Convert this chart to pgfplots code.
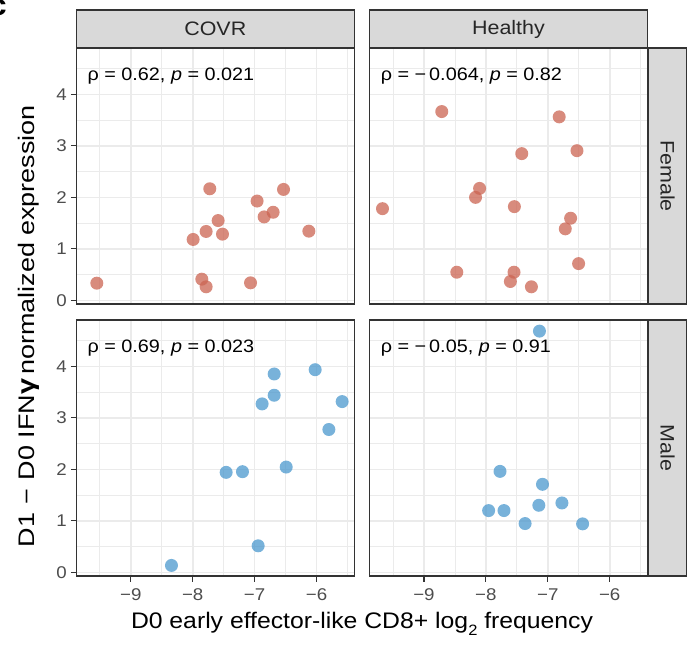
\documentclass[border=0pt]{standalone}
\usepackage{pgfplots}
\pgfplotsset{compat=1.18}
\usepackage{graphicx}
\usepackage{fontspec}
\setmainfont{Liberation Sans}[FakeStretch=1.1]
\definecolor{ptred}{RGB}{203,100,82}
\definecolor{ptblue}{RGB}{75,152,205}
\definecolor{gridc}{RGB}{235,235,235}
\definecolor{bordc}{RGB}{51,51,51}
\definecolor{stripc}{RGB}{217,217,217}
\definecolor{tickc}{RGB}{77,77,77}
\pgfplotsset{
  panel/.style={
    scale only axis, width=278pt, height=256pt,
    xmin=-9.88, xmax=-5.39, ymin=-0.07, ymax=4.9,
    xtick={-9,-8,-7,-6}, ytick={0,1,2,3,4},
    minor xtick={-9.5,-8.5,-7.5,-6.5,-5.5}, minor ytick={0.5,1.5,2.5,3.5,4.5},
    grid=both,
    major grid style={gridc, line width=1.6pt},
    minor grid style={gridc, line width=0.8pt},
    axis line style={bordc, line width=1.2pt},
    tick style={bordc, line width=1.1pt},
    tick align=outside, major tick length=5.5pt, minor tick length=0pt,
    tick pos=left,
    xticklabels={−9,−8,−7,−6}, yticklabels={0,1,2,3,4},
    ticklabel style={font=\fontsize{17}{17}\selectfont, text=tickc},
    xticklabel style={yshift=-3.5pt},
    yticklabel style={xshift=-0.5pt},
  },
  inx/.style={xticklabels={}, x tick style={draw=none}},
  iny/.style={yticklabels={}, y tick style={draw=none}},
  redpts/.style={only marks, mark=*, mark size=6.5pt, mark options={fill=ptred, draw=ptred, fill opacity=0.75, draw opacity=0}},
  bluepts/.style={only marks, mark=*, mark size=6.5pt, mark options={fill=ptblue, draw=ptblue, fill opacity=0.75, draw opacity=0}},
}
\newcommand{\ptxt}[1]{\node[anchor=west, inner sep=0pt, font=\fontsize{18}{18}\selectfont] at (axis cs:-9.70,4.35) {#1};}
\begin{document}
\begin{tikzpicture}[x=1pt,y=1pt]
\useasboundingbox (0,0) rectangle (689,649);
% top-left: COVR Female
\begin{axis}[panel, inx, at={(76.3pt,345pt)}, anchor=south west]
\addplot[redpts] coordinates {(-9.549,0.334) (-7.724,2.167) (-7.993,1.183) (-7.783,1.338) (-7.589,1.550) (-7.519,1.286) (-7.853,0.412) (-7.783,0.264) (-7.066,0.341) (-6.960,1.929) (-6.846,1.621) (-6.701,1.711) (-6.533,2.154) (-6.124,1.344)};
\ptxt{ρ = 0.62, \textit{p} = 0.021}
\end{axis}
% top-right: Healthy Female
\begin{axis}[panel, inx, iny, at={(369.5pt,345pt)}, anchor=south west]
\addplot[redpts] coordinates {(-9.670,1.781) (-8.713,3.666) (-8.470,0.547) (-8.102,2.174) (-8.167,2.000) (-7.540,1.820) (-7.421,2.849) (-7.546,0.547) (-7.605,0.367) (-7.265,0.264) (-6.816,3.563) (-6.529,2.907) (-6.632,1.595) (-6.718,1.389) (-6.503,0.714)};
\ptxt{ρ = −\,0.064, \textit{p} = 0.82}
\end{axis}
% bottom-left: COVR Male
\begin{axis}[panel, at={(76.3pt,73pt)}, anchor=south west]
\addplot[bluepts] coordinates {(-8.343,0.135) (-7.460,1.942) (-7.196,1.955) (-6.943,0.516) (-6.879,3.271) (-6.684,3.852) (-6.684,3.439) (-6.490,2.045) (-6.022,3.935) (-5.801,2.774) (-5.586,3.316)};
\ptxt{ρ = 0.69, \textit{p} = 0.023}
\end{axis}
% bottom-right: Healthy Male
\begin{axis}[panel, iny, at={(369.5pt,73pt)}, anchor=south west]
\addplot[bluepts] coordinates {(-7.135,4.684) (-7.772,1.961) (-7.086,1.710) (-7.956,1.200) (-7.708,1.200) (-7.145,1.303) (-6.772,1.348) (-7.367,0.948) (-6.438,0.942)};
\ptxt{ρ = −\,0.05, \textit{p} = 0.91}
\end{axis}
% strips
\draw[bordc, line width=1.2pt, fill=stripc] (76.3,601) rectangle (354.3,639);
\draw[bordc, line width=1.2pt, fill=stripc] (369.5,601) rectangle (647.5,639);
\draw[bordc, line width=1.2pt, fill=stripc] (648.5,345) rectangle (686.5,601);
\draw[bordc, line width=1.2pt, fill=stripc] (648.5,73) rectangle (686.5,329);
\node[font=\fontsize{19.5}{19.5}\selectfont, text=black!85] at (215.3,620) {COVR};
\node[font=\fontsize{19.5}{19.5}\selectfont, text=black!85] at (508.5,620) {Healthy};
\node[font=\fontsize{19.5}{19.5}\selectfont, text=black!85, rotate=-90] at (667.5,473) {Female};
\node[font=\fontsize{19.5}{19.5}\selectfont, text=black!85, rotate=-90] at (667.5,201) {Male};
% axis titles
\node[font=\fontsize{22.5}{22.5}\selectfont] at (362,25) {D0 early effector-like CD8+ log\raisebox{-0.3em}{\fontsize{15}{15}\selectfont 2} frequency};
\node[font=\fontsize{22.5}{22.5}\selectfont, rotate=90] at (29,323) {\scalebox{1.09}[1]{D1\,\,−\,\,D0 IFN{\bfseries\fontsize{24}{24}\selectfont γ}\,normalized expression}};
% cropped panel letter
\node[anchor=east, inner sep=0pt, font=\bfseries\fontsize{30}{30}\selectfont] at (7,641) {c};
\end{tikzpicture}
\end{document}
